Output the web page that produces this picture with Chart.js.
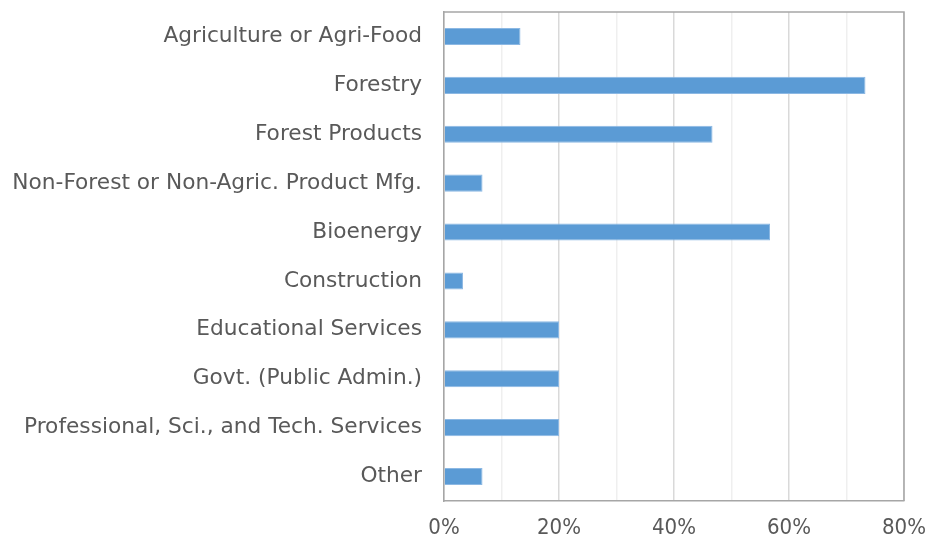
<!DOCTYPE html>
<html><head><meta charset="utf-8">
<script src="https://cdn.jsdelivr.net/npm/chart.js@4/dist/chart.umd.min.js"></script>
<style>html,body{margin:0;padding:0;background:#fff}#wrap{width:927px;height:542px}</style>
</head><body><div id="wrap"><canvas id="c" width="927" height="542"></canvas></div>
<script>
const categories = ["Agriculture or Agri-Food","Forestry","Forest Products","Non-Forest or Non-Agric. Product Mfg.","Bioenergy","Construction","Educational Services","Govt. (Public Admin.)","Professional, Sci., and Tech. Services","Other"];
const values = [13.3,73.3,46.7,6.7,56.7,3.3,20,20,20,6.7];
const tickLabels = ["0%","20%","40%","60%","80%"];

const FONT = "'DejaVu Sans', sans-serif";
const TFONT = "'Liberation Sans Narrow', 'DejaVu Sans Condensed', Roboto, sans-serif";
const frame = {
  id:'frame',
  afterDraw(chart){
    const {ctx, chartArea:a} = chart;
    ctx.save();
    ctx.strokeStyle='#a6a6a6'; ctx.lineWidth=1.5;
    ctx.beginPath();
    ctx.moveTo(a.left, a.top); ctx.lineTo(a.right, a.top); ctx.lineTo(a.right,a.bottom);
    ctx.stroke();
    ctx.restore();
  }
};
new Chart(document.getElementById('c'), {
  type:'bar',
  data:{labels:categories, datasets:[{data:values, backgroundColor:'#5b9bd5', borderColor:'#8cb8e3', borderWidth:{top:1,bottom:1,right:1,left:0}, borderSkipped:'left', categoryPercentage:1, barPercentage:0.35}]},
  options:{
    indexAxis:'y', responsive:false, animation:false,
    layout:{padding:{top:12,right:23,bottom:0,left:0}},
    plugins:{legend:{display:false}, tooltip:{enabled:false}},
    scales:{
      x:{min:0,max:80,
        ticks:{stepSize:10, color:'#595959', font:{family:TFONT,size:22}, padding:14, maxRotation:0, autoSkip:false,
          callback:(v)=> v%20===0 ? tickLabels[v/20] : ''},
        grid:{color:(c)=> (c.tick && c.tick.value%20===0) ? '#d9d9d9' : '#efefef', lineWidth:1.5, drawTicks:false},
        border:{color:'#a6a6a6', width:1.5},
        afterFit(s){ s.height = 41; s.paddingLeft = 0; s.paddingRight = 0; }
      },
      y:{
        ticks:{color:'#595959', font:{family:FONT,size:21.7}, padding:22, autoSkip:false},
        grid:{display:false, drawTicks:false},
        border:{color:'#a6a6a6', width:1.5},
        afterFit(s){ s.width = 444; s.paddingTop = 0; s.paddingBottom = 0; }
      }
    }
  },
  plugins:[frame]
});
</script></body></html>
